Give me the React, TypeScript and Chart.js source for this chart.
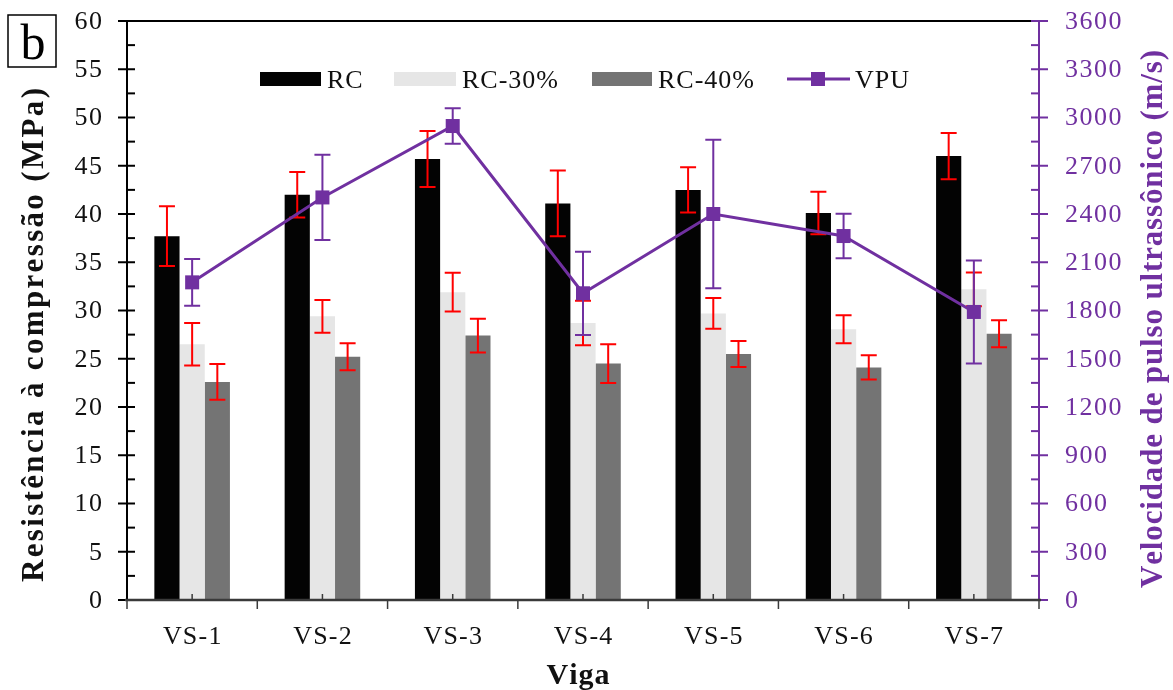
import React, { useEffect, useRef } from "react";
import { Chart, registerables } from "chart.js";

Chart.register(...registerables);

const categories = ["VS-1", "VS-2", "VS-3", "VS-4", "VS-5", "VS-6", "VS-7"];
const rc = [37.7, 42.0, 45.7, 41.1, 42.5, 40.1, 46.0];
const rcErr = [3.1, 2.35, 2.9, 3.4, 2.35, 2.2, 2.4];
const rc30 = [26.5, 29.4, 31.9, 28.7, 29.7, 28.05, 32.2];
const rc30Err = [2.2, 1.7, 2.0, 2.3, 1.6, 1.45, 1.75];
const rc40 = [22.6, 25.2, 27.4, 24.5, 25.5, 24.1, 27.6];
const rc40Err = [1.85, 1.4, 1.75, 2.0, 1.35, 1.25, 1.4];
const vpu = [1975, 2503, 2947, 1907, 2400, 2263, 1791];
const vpuErr = [145, 265, 110, 259, 462, 138, 320];

const leftTickValues = [0, 5, 10, 15, 20, 25, 30, 35, 40, 45, 50, 55, 60];
const rightTickValues = [0, 300, 600, 900, 1200, 1500, 1800, 2100, 2400, 2700, 3000, 3300, 3600];

const PURPLE = "#7030A0";
const RED = "#FF0000";
const SERIF = "'Liberation Serif', 'Times New Roman', serif";

function spacedText(
  ctx: CanvasRenderingContext2D,
  text: string,
  x: number,
  y: number,
  spacing: number,
  align: "left" | "center" | "right"
) {
  const chars = [...text];
  const widths = chars.map((c) => ctx.measureText(c).width);
  const total = widths.reduce((a, b) => a + b, 0) + spacing * (chars.length - 1);
  let cx = align === "left" ? x : align === "center" ? x - total / 2 : x - total;
  ctx.textAlign = "left";
  chars.forEach((c, i) => {
    ctx.fillText(c, cx, y);
    cx += widths[i] + spacing;
  });
}

function fitText(ctx: CanvasRenderingContext2D, text: string, x: number, y: number, length: number) {
  const chars = [...text];
  const sum = chars.map((c) => ctx.measureText(c).width).reduce((a, b) => a + b, 0);
  const spacing = (length - sum) / (chars.length - 1);
  spacedText(ctx, text, x, y, spacing, "center");
}

function errorBar(ctx: CanvasRenderingContext2D, x: number, yTop: number, yBot: number, color: string, cap: number) {
  ctx.save();
  ctx.strokeStyle = color;
  ctx.lineWidth = 2;
  ctx.beginPath();
  ctx.moveTo(x, yTop);
  ctx.lineTo(x, yBot);
  ctx.moveTo(x - cap / 2, yTop);
  ctx.lineTo(x + cap / 2, yTop);
  ctx.moveTo(x - cap / 2, yBot);
  ctx.lineTo(x + cap / 2, yBot);
  ctx.stroke();
  ctx.restore();
}

const barErrors = [rcErr, rc30Err, rc40Err];

const decorPlugin = {
  id: "decor",
  afterDatasetDraw(chart: any, args: any) {
    const ctx = chart.ctx as CanvasRenderingContext2D;
    const idx = args.index;
    const meta = args.meta;
    if (idx < 3) {
      const ys = chart.scales.y;
      const vals = chart.data.datasets[idx].data as number[];
      meta.data.forEach((el: any, j: number) => {
        const v = vals[j];
        const e = barErrors[idx][j];
        errorBar(ctx, el.x, ys.getPixelForValue(v + e), ys.getPixelForValue(v - e), RED, 16);
      });
    } else if (idx === 3) {
      const ys = chart.scales.y1;
      meta.data.forEach((el: any, j: number) => {
        const v = vpu[j];
        const e = vpuErr[j];
        errorBar(ctx, el.x, ys.getPixelForValue(v + e), ys.getPixelForValue(v - e), PURPLE, 16);
      });
      ctx.save();
      ctx.fillStyle = PURPLE;
      meta.data.forEach((el: any) => {
        ctx.fillRect(el.x - 7, el.y - 7, 14, 14);
      });
      ctx.restore();
    }
  },
  afterDraw(chart: any) {
    const ctx = chart.ctx as CanvasRenderingContext2D;
    const { left, right, top, bottom } = chart.chartArea;
    const xs = chart.scales.x;
    const ys = chart.scales.y;
    const y1 = chart.scales.y1;
    ctx.save();

    // top border
    ctx.strokeStyle = "#000";
    ctx.lineWidth = 2;
    ctx.beginPath();
    ctx.moveTo(left, top);
    ctx.lineTo(right, top);
    ctx.stroke();

    // left axis
    ctx.beginPath();
    ctx.moveTo(left, top);
    ctx.lineTo(left, bottom);
    ctx.stroke();
    for (let i = 0; i < leftTickValues.length; i++) {
      const v = leftTickValues[i];
      const py = ys.getPixelForValue(v);
      ctx.beginPath();
      ctx.moveTo(left - 9, py);
      ctx.lineTo(left + 8, py);
      ctx.stroke();
      if (i < leftTickValues.length - 1) {
        const pm = ys.getPixelForValue((v + leftTickValues[i + 1]) / 2);
        ctx.beginPath();
        ctx.moveTo(left, pm);
        ctx.lineTo(left + 8, pm);
        ctx.stroke();
      }
    }
    ctx.fillStyle = "#111";
    ctx.font = `26px ${SERIF}`;
    ctx.textBaseline = "middle";
    leftTickValues.forEach((v) => {
      spacedText(ctx, String(v), left - 25, ys.getPixelForValue(v) + 1, 1.5, "right");
    });

    // right axis
    ctx.strokeStyle = PURPLE;
    ctx.beginPath();
    ctx.moveTo(right, top);
    ctx.lineTo(right, bottom);
    ctx.stroke();
    for (let i = 0; i < rightTickValues.length; i++) {
      const v = rightTickValues[i];
      const py = y1.getPixelForValue(v);
      ctx.beginPath();
      ctx.moveTo(right - 8, py);
      ctx.lineTo(right + 9, py);
      ctx.stroke();
      if (i < rightTickValues.length - 1) {
        const pm = y1.getPixelForValue((v + rightTickValues[i + 1]) / 2);
        ctx.beginPath();
        ctx.moveTo(right - 8, pm);
        ctx.lineTo(right, pm);
        ctx.stroke();
      }
    }
    ctx.fillStyle = PURPLE;
    rightTickValues.forEach((v) => {
      spacedText(ctx, String(v), right + 26, y1.getPixelForValue(v) + 1, 1.5, "left");
    });

    // bottom axis
    ctx.strokeStyle = "#3a3a3a";
    ctx.lineWidth = 2.5;
    ctx.beginPath();
    ctx.moveTo(left - 2, bottom);
    ctx.lineTo(right + 2, bottom);
    ctx.stroke();
    const catW = (right - left) / categories.length;
    ctx.lineWidth = 1.5;
    for (let i = 0; i <= categories.length; i++) {
      const bx = xs.getPixelForValue(0) - catW / 2 + i * catW;
      ctx.beginPath();
      ctx.moveTo(bx, bottom);
      ctx.lineTo(bx, bottom + 9);
      ctx.stroke();
    }
    ctx.fillStyle = "#111";
    ctx.font = `26px ${SERIF}`;
    ctx.textBaseline = "alphabetic";
    categories.forEach((c, i) => {
      const cx = xs.getPixelForValue(i);
      ctx.beginPath();
      ctx.moveTo(cx, bottom);
      ctx.lineTo(cx, bottom - 6);
      ctx.stroke();
      spacedText(ctx, c, cx, 644, 1.2, "center");
    });

    // axis titles
    ctx.font = `bold 30px ${SERIF}`;
    ctx.fillStyle = "#111";
    spacedText(ctx, "Viga", 578, 684, 1, "center");

    ctx.font = `bold 31px ${SERIF}`;
    ctx.save();
    ctx.translate(43, 335);
    ctx.rotate(-Math.PI / 2);
    fitText(ctx, "Resistência à compressão (MPa)", 0, 0, 494);
    ctx.restore();

    ctx.save();
    ctx.fillStyle = PURPLE;
    ctx.translate(1162, 319);
    ctx.rotate(-Math.PI / 2);
    fitText(ctx, "Velocidade de pulso ultrassônico (m/s)", 0, 0, 538);
    ctx.restore();

    // legend
    ctx.font = `26px ${SERIF}`;
    ctx.textBaseline = "alphabetic";
    const boxes: [number, number, string, string][] = [
      [260, 321, "#030303", "RC"],
      [394, 456, "#E6E6E6", "RC-30%"],
      [592, 652, "#747474", "RC-40%"],
    ];
    boxes.forEach(([x0, x1, col, label]) => {
      ctx.fillStyle = col;
      ctx.fillRect(x0, 72, x1 - x0, 14);
      ctx.fillStyle = "#111";
      spacedText(ctx, label, x1 + 6, 88, 1, "left");
    });
    ctx.strokeStyle = PURPLE;
    ctx.lineWidth = 3;
    ctx.beginPath();
    ctx.moveTo(787, 79);
    ctx.lineTo(850, 79);
    ctx.stroke();
    ctx.fillStyle = PURPLE;
    ctx.fillRect(811, 72, 14, 14);
    ctx.fillStyle = "#111";
    spacedText(ctx, "VPU", 855, 88, 1, "left");

    // panel label
    ctx.strokeStyle = "#000";
    ctx.lineWidth = 1.5;
    ctx.strokeRect(8, 15, 48, 52);
    ctx.fillStyle = "#000";
    ctx.font = `50px ${SERIF}`;
    ctx.textAlign = "center";
    ctx.fillText("b", 33, 59);

    ctx.restore();
  },
};

export default function App() {
  const ref = useRef<HTMLCanvasElement | null>(null);
  useEffect(() => {
    document.body.style.margin = "0";
    const canvas = ref.current;
    if (!canvas) return;
    const chart = new Chart(canvas, {
      type: "bar",
      data: {
        labels: categories,
        datasets: [
          { type: "bar", label: "RC", data: rc, backgroundColor: "#030303", yAxisID: "y", order: 1 },
          { type: "bar", label: "RC-30%", data: rc30, backgroundColor: "#E6E6E6", yAxisID: "y", order: 1 },
          { type: "bar", label: "RC-40%", data: rc40, backgroundColor: "#747474", yAxisID: "y", order: 1 },
          {
            type: "line",
            label: "VPU",
            data: vpu,
            yAxisID: "y1",
            borderColor: PURPLE,
            borderWidth: 3,
            pointStyle: "rect",
            pointRadius: 7,
            pointBackgroundColor: PURPLE,
            pointBorderWidth: 0,
            tension: 0,
            order: 0,
          } as any,
        ],
      },
      options: {
        responsive: false,
        animation: false,
        events: [],
        layout: { padding: { top: 21, left: 0, right: 0, bottom: 0 } },
        datasets: { bar: { categoryPercentage: 0.58, barPercentage: 1.0 } } as any,
        plugins: { legend: { display: false }, tooltip: { enabled: false } },
        scales: {
          x: {
            offset: true,
            grid: { display: false },
            ticks: { display: false },
            border: { display: false },
            afterFit: (s: any) => {
              s.height = 90;
            },
          },
          y: {
            position: "left",
            min: 0,
            max: 60,
            grid: { display: false },
            ticks: { display: false },
            border: { display: false },
            afterFit: (s: any) => {
              s.width = 127;
            },
          },
          y1: {
            position: "right",
            min: 0,
            max: 3600,
            grid: { display: false },
            ticks: { display: false },
            border: { display: false },
            afterFit: (s: any) => {
              s.width = 134;
            },
          },
        },
      },
      plugins: [decorPlugin],
    });
    return () => chart.destroy();
  }, []);
  return <canvas ref={ref} width={1173} height={690} style={{ display: "block" }} />;
}
